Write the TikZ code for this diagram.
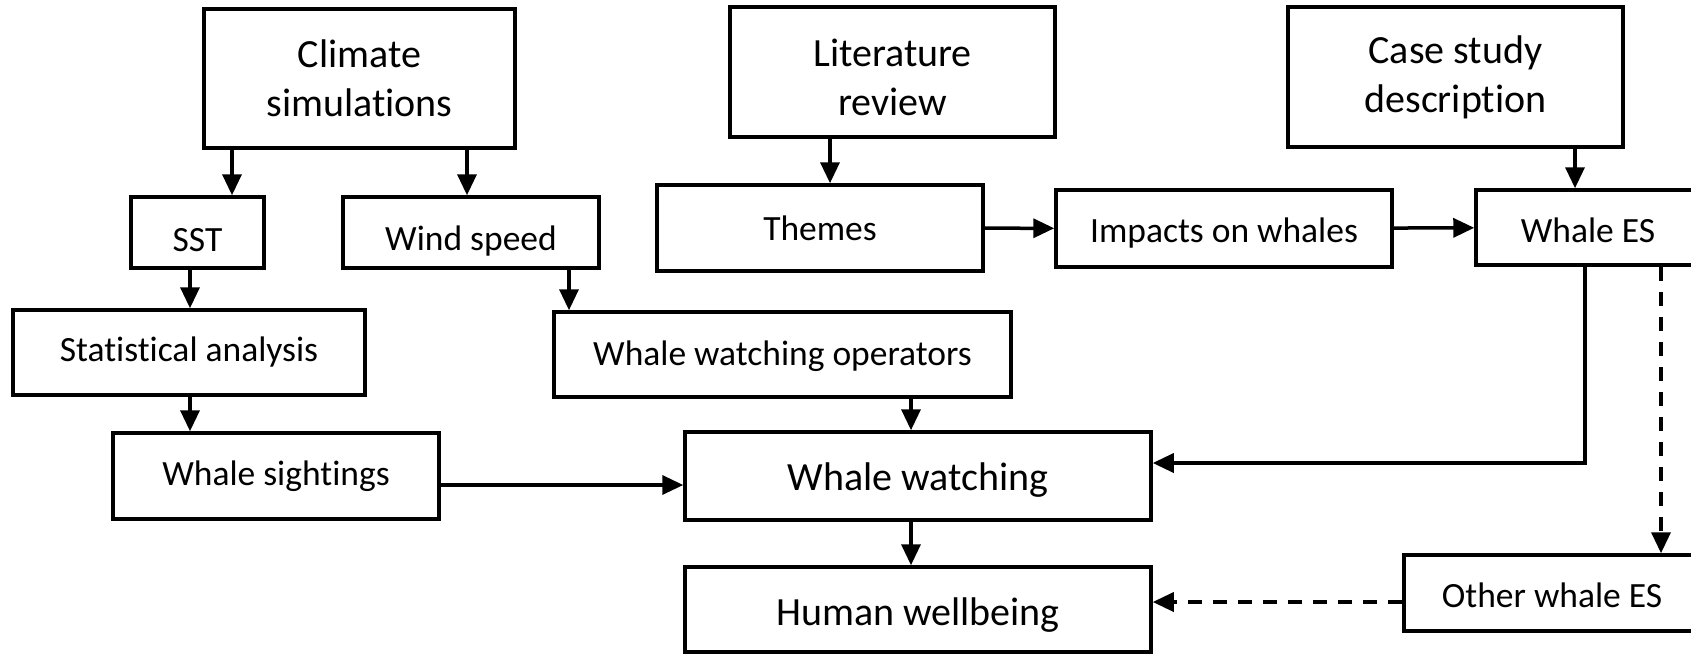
\documentclass[tikz,border=0pt]{standalone}
\usepackage{fontspec}
\setmainfont{Carlito}[Ligatures={NoCommon,NoContextual,NoRequired}]
\usetikzlibrary{arrows.meta}
\newcommand{\dropby}[2]{\raisebox{-#1}[\height][\depth]{#2}}

\begin{document}
\begin{tikzpicture}[x=1pt, y=-1pt,
        box/.style={draw, line width=3.5pt, inner sep=0pt, align=center, font=\fontsize{35.5}{42}\selectfont},
        bigbox/.style={box, font=\fontsize{40}{49}\selectfont},
        arr/.style={line width=3.5pt, -{Triangle[length=21pt, width=19pt]}},
        darr/.style={arr, dash pattern=on 14pt off 11pt}]
        \useasboundingbox (0,0) rectangle (1691,653);
        % top row
        \node[bigbox, minimum width=311pt, minimum height=139pt] (clim) at (359.5,78.5) {Climate\\simulations};
        \node[bigbox, minimum width=325pt, minimum height=130pt] (lit) at (892.5,72) {\dropby{5pt}{Literature}\\\dropby{5pt}{review}};
        \node[bigbox, minimum width=335pt, minimum height=140pt] (case) at (1455.5,77) {Case study\\description};
        % second row
        \node[box, minimum width=133pt, minimum height=71pt] (sst) at (197.5,232.5) {\dropby{8pt}{SST}};
        \node[box, minimum width=256pt, minimum height=71pt] (wind) at (471,232.5) {\dropby{9pt}{Wind speed}};
        \node[box, minimum width=326pt, minimum height=86pt] (themes) at (820,228) {Themes};
        \node[box, minimum width=336pt, minimum height=77pt] (impacts) at (1224,228.5) {\dropby{5pt}{Impacts on whales}};
        \node[box, minimum width=224pt, minimum height=75pt] (whaleES) at (1588,227.5) {\dropby{3pt}{Whale ES}};
        % lower rows
        \node[box, minimum width=352pt, minimum height=85pt] (stat) at (189,352.5) {Statistical analysis};
        \node[box, minimum width=457pt, minimum height=85pt] (wwo) at (782.5,354.5) {\dropby{2pt}{Whale watching operators}};
        \node[box, minimum width=326pt, minimum height=86pt] (sight) at (276,476) {Whale sightings};
        \node[bigbox, minimum width=466pt, minimum height=88pt] (ww) at (918,476) {\dropby{4pt}{Whale watching}};
        \node[bigbox, minimum width=466pt, minimum height=85pt] (hw) at (918,609.5) {\dropby{6pt}{Human wellbeing}};
        \node[box, minimum width=296pt, minimum height=76pt] (other) at (1552,593) {\dropby{2pt}{Other whale ES}};

        \coordinate (climx1) at (232,0);
        \coordinate (climx2) at (467,0);
        \coordinate (litx) at (830,0);
        \coordinate (casex) at (1575,0);
        \coordinate (statx) at (190,0);
        \coordinate (windx) at (569,0);
        \coordinate (wwx) at (911,0);
        \coordinate (esbend) at (1585,463);
        \coordinate (otherx) at (1661,0);
        \coordinate (sighty) at (0,485);
        \coordinate (othery) at (0,602);

        \draw[arr] (clim.south -| climx1) -- (sst.north -| climx1);
        \draw[arr] (clim.south -| climx2) -- (wind.north -| climx2);
        \draw[arr] (lit.south -| litx) -- (themes.north -| litx);
        \draw[arr] (case.south -| casex) -- (whaleES.north -| casex);
        \draw[arr] (themes) -- (impacts);
        \draw[arr] (impacts) -- (whaleES);
        \draw[arr] (sst.south -| statx) -- (stat.north -| statx);
        \draw[arr] (stat.south -| statx) -- (sight.north -| statx);
        \draw[arr] (wind.south -| windx) -- (wwo.north -| windx);
        \draw[arr] (wwo.south -| wwx) -- (ww.north -| wwx);
        \draw[arr] (ww.south -| wwx) -- (hw.north -| wwx);
        \draw[arr] (sight.east |- sighty) -- (ww.west |- sighty);
        \draw[arr] (whaleES.south -| esbend) |- (ww.east |- esbend);
        \draw[darr] (whaleES.south -| otherx) -- (other.north -| otherx);
        \draw[darr] (other.west |- othery) -- (hw.east |- othery);
\end{tikzpicture}
\end{document}
